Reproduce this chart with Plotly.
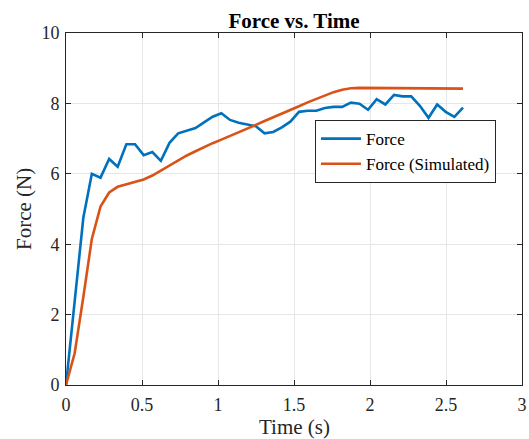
import plotly.graph_objects as go

time_s = [0.0, 0.057, 0.114, 0.17, 0.227, 0.284, 0.34, 0.397, 0.454, 0.511, 0.568, 0.624,
          0.681, 0.738, 0.795, 0.852, 0.908, 0.965, 1.022, 1.079, 1.136, 1.192, 1.249, 1.306,
          1.363, 1.42, 1.476, 1.533, 1.59, 1.647, 1.703, 1.76, 1.817, 1.874, 1.931, 1.987,
          2.044, 2.101, 2.158, 2.214, 2.271, 2.328, 2.385, 2.442, 2.498, 2.555, 2.612]

force = [0.0, 2.4, 4.75, 6.0, 5.89, 6.42, 6.2, 6.84, 6.84, 6.53, 6.62, 6.37,
         6.88, 7.15, 7.22, 7.30, 7.46, 7.62, 7.72, 7.53, 7.45, 7.41, 7.35, 7.15,
         7.19, 7.32, 7.48, 7.76, 7.79, 7.79, 7.87, 7.9, 7.9, 8.02, 7.99, 7.82,
         8.12, 7.97, 8.24, 8.20, 8.20, 7.93, 7.59, 7.97, 7.76, 7.62, 7.88]

force_sim = [0.0, 0.9, 2.5, 4.15, 5.07, 5.47, 5.63, 5.70, 5.76, 5.84, 5.95, 6.09,
             6.23, 6.38, 6.52, 6.64, 6.76, 6.87, 6.97, 7.07, 7.17, 7.28, 7.39, 7.50,
             7.60, 7.70, 7.80, 7.92, 8.03, 8.13, 8.23, 8.32, 8.39, 8.43, 8.44, 8.44,
             8.43, 8.43, 8.42, 8.42, 8.42, 8.42, 8.42, 8.42, 8.42, 8.42, 8.42]

x_ticks = [0, 0.5, 1, 1.5, 2, 2.5, 3]
x_tick_labels = ["0", "0.5", "1", "1.5", "2", "2.5", "3"]
y_ticks = [0, 2, 4, 6, 8, 10]
y_tick_labels = ["0", "2", "4", "6", "8", "10"]

FONT = "Liberation Serif, Times New Roman, serif"
AX = "#262626"

fig = go.Figure()
fig.add_trace(go.Scatter(x=time_s, y=force, mode="lines", name="Force",
                         line=dict(color="#0072BD", width=2.6)))
fig.add_trace(go.Scatter(x=time_s, y=force_sim, mode="lines", name="Force (Simulated)",
                         line=dict(color="#D95319", width=2.6)))

axis_common = dict(showline=True, linecolor=AX, linewidth=1, mirror="ticks",
                   ticks="inside", ticklen=5, tickcolor=AX, showgrid=True,
                   gridcolor="#e6e6e6", gridwidth=1, zeroline=False,
                   automargin=False, ticklabeloverflow="allow",
                   tickfont=dict(family=FONT, size=18, color=AX))

fig.update_xaxes(range=[0, 3], tickvals=x_ticks, ticktext=x_tick_labels,
                 ticklabelstandoff=3, **axis_common)
fig.update_yaxes(range=[0, 10], tickvals=y_ticks, ticktext=y_tick_labels,
                 ticklabelstandoff=2, **axis_common)

fig.add_annotation(text="Time (s)", xref="paper", yref="paper", x=0.5, y=0,
                   xanchor="center", yanchor="middle", yshift=-42, showarrow=False,
                   font=dict(family=FONT, size=21, color=AX))
fig.add_annotation(text="Force (N)", xref="paper", yref="paper", x=0, y=0.5,
                   xanchor="center", yanchor="middle", xshift=-42, textangle=-90,
                   showarrow=False, font=dict(family=FONT, size=21, color=AX))

fig.update_layout(
    width=529, height=439,
    margin=dict(l=66, r=7, t=33, b=54, autoexpand=False),
    paper_bgcolor="white", plot_bgcolor="white",
    title=dict(text="<b>Force vs. Time</b>", x=0.5, xanchor="center",
               xref="paper", y=0.953, yanchor="middle",
               font=dict(family=FONT, size=21, color="black")),
    legend=dict(x=0.546, y=0.663, xanchor="left", yanchor="middle",
                bgcolor="white", bordercolor=AX, borderwidth=1,
                font=dict(family=FONT, size=17, color="black"),
                tracegroupgap=0, itemwidth=40),
    showlegend=True,
)

# remove the default 8px page margin so the 529x439 figure fills the window exactly
fig.write_html("out.html", default_width="529px", default_height="439px",
               config={"displayModeBar": False},
               post_script="document.body.style.margin='0';document.body.style.overflow='hidden';")
